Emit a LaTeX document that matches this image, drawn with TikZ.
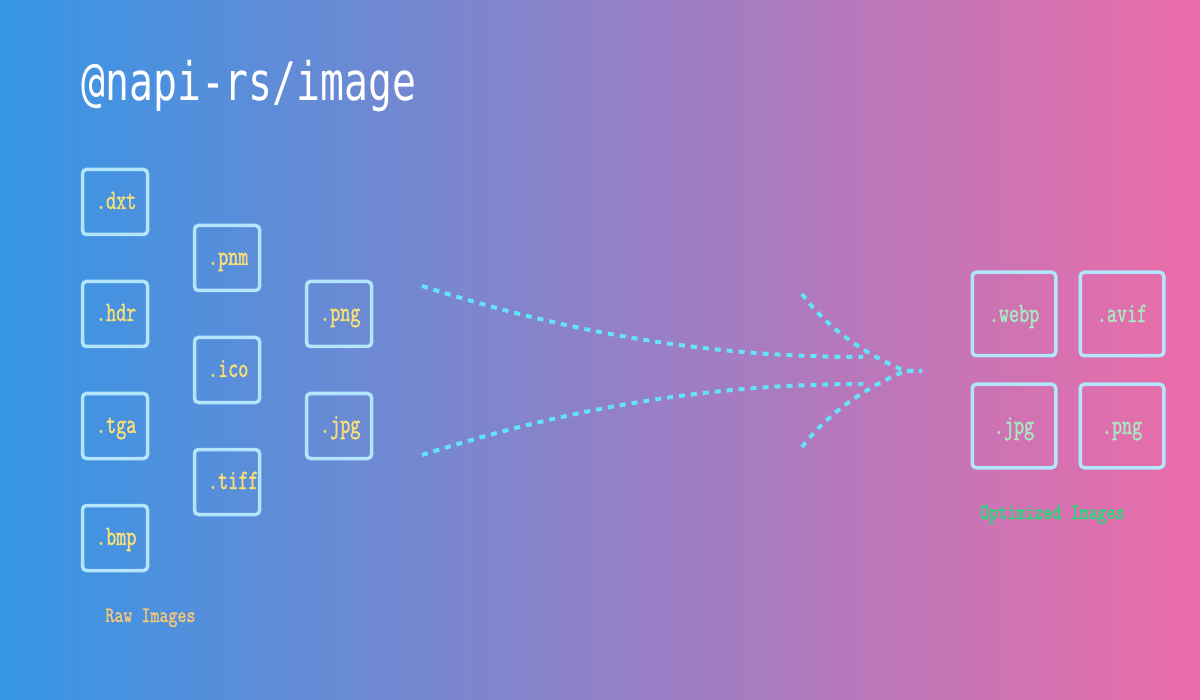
\documentclass[tikz,border=0pt]{standalone}
\usepackage{fontspec}
\newfontfamily\titlefont[FakeStretch=0.75]{DejaVu Sans Mono}
\newfontfamily\boxfont[FakeStretch=0.7, FakeBold=1.5]{Latin Modern Mono}
\newfontfamily\labelfont[FakeStretch=0.78, FakeBold=1.2]{Latin Modern Mono}
\definecolor{bgleft}{RGB}{53,150,230}
\definecolor{bgright}{RGB}{236,108,169}
\definecolor{boxline}{RGB}{179,229,252}
\definecolor{rawtext}{RGB}{246,223,120}
\definecolor{opttext}{RGB}{170,230,192}
\definecolor{rawnote}{RGB}{246,200,120}
\definecolor{optnote}{RGB}{30,224,120}
\definecolor{flowblue}{RGB}{100,228,250}
\tikzset{
  filebox/.style={draw=boxline, line width=1.75pt, rounded corners=2pt,
    font=\boxfont\fontsize{14pt}{16pt}\selectfont},
  rawbox/.style={filebox, text=rawtext, minimum height=32.5pt, text width=19pt,
    inner xsep=6.75pt, inner ysep=0pt, align=left, text height=8pt, text depth=1pt},
  optbox/.style={filebox, text=opttext, minimum width=41.75pt, minimum height=41.75pt,
    inner sep=0pt, align=center, text height=9pt, text depth=1pt},
  note/.style={anchor=base west, inner sep=0pt, font=\labelfont\fontsize{11pt}{13pt}\selectfont},
  flow/.style={draw=flowblue, line width=2pt, dash pattern=on 3pt off 3pt},
}
\begin{document}
\begin{tikzpicture}[x=0.5pt, y=-0.5pt]
  \shade[left color=bgleft, right color=bgright] (0,0) rectangle (1200,700);
  \node[anchor=base west, inner sep=0pt, text=white,
    font=\titlefont\fontsize{26.5pt}{30pt}\selectfont] (title) at (81,101) {@napi-rs/image};
  \draw
    (115,202) node[rawbox] (dxt){.dxt}
    (115,314) node[rawbox] (hdr){.hdr}
    (115,426) node[rawbox] (tga){.tga}
    (115,538) node[rawbox] (bmp){.bmp}
    (227,258) node[rawbox] (pnm){.pnm}
    (227,370) node[rawbox] (ico){.ico}
    (227,482) node[rawbox] (tiff){.tiff}
    (339,314) node[rawbox] (png){.png}
    (339,426) node[rawbox] (jpg){.jpg};
  \draw
    (1014,314) node[optbox] (webp){.webp}
    (1122,314) node[optbox] (avif){.avif}
    (1014,426) node[optbox] (jpgout){.jpg}
    (1122,426) node[optbox] (pngout){.png};
  \node[note, text=rawnote] (rawlabel) at (105,622) {Raw Images};
  \node[note, text=optnote] (optlabel) at (980,519) {Optimized Images};
  \coordinate (upin) at (422,286);
  \coordinate (upout) at (863,357);
  \coordinate (lowin) at (422,455);
  \coordinate (lowout) at (863,384);
  \coordinate (barbup) at (802,294);
  \coordinate (barblow) at (802,447);
  \coordinate (tip) at (905,371);
  \coordinate (tipend) at (922,371);
  \begin{scope}[flow]
    \draw (upin) .. controls (560,330) and (700,357) .. (upout);
    \draw (lowin) .. controls (560,411) and (700,384) .. (lowout);
    \draw (barbup) .. controls (825,325) and (860,352) .. (tip) -- (tipend);
    \draw (barblow) .. controls (825,417) and (860,390) .. (tip) -- (tipend);
  \end{scope}
\end{tikzpicture}
\end{document}
